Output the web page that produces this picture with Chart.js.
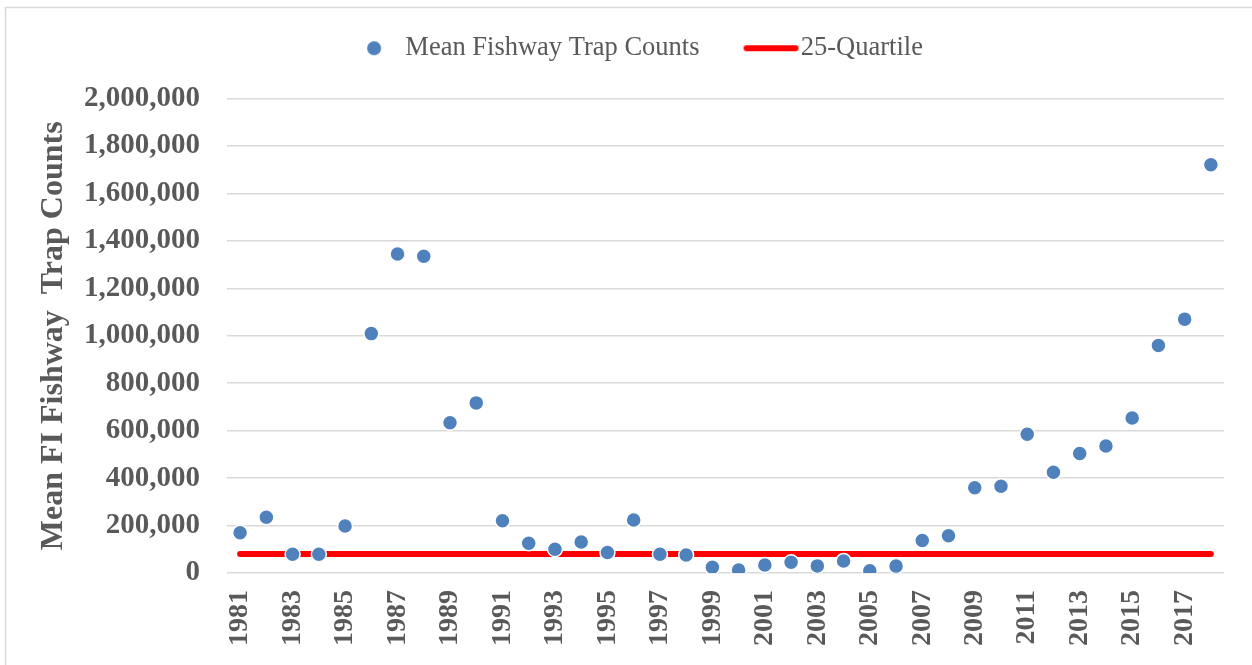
<!DOCTYPE html>
<html>
<head>
<meta charset="utf-8">
<title>Mean Fishway Trap Counts</title>
<script src="https://cdn.jsdelivr.net/npm/chart.js@4"></script>
<style>
  html, body { margin: 0; padding: 0; background: #ffffff; }
  #wrap { width: 1252px; height: 665px; position: relative; }
</style>
</head>
<body>
<div id="wrap"><canvas id="chart" width="1252" height="665"></canvas></div>
<script>
// Survey years
const years = [
  '1981','1982','1983','1984','1985','1986','1987','1988','1989','1990',
  '1991','1992','1993','1994','1995','1996','1997','1998','1999','2000',
  '2001','2002','2003','2004','2005','2006','2007','2008','2009','2010',
  '2011','2012','2013','2014','2015','2016','2017','2018'
];

// Mean fishway trap counts per year
const meanTrapCounts = [
  170000, 235000, 79000, 79000, 198000, 1009000, 1345000, 1335000, 633000, 717000,
  220000, 125000, 100000, 131000, 86000, 223000, 79000, 76000, 24000, 13000,
  34000, 45000, 30000, 51000, 9000, 29000, 137000, 157000, 359000, 366000,
  585000, 425000, 504000, 535000, 653000, 959000, 1070000, 1721000
];

// 25th percentile reference level
const quartile25 = 80000;

// Value axis ticks
const yTickValues = [0, 200000, 400000, 600000, 800000, 1000000, 1200000, 1400000, 1600000, 1800000, 2000000];

const seriesNames = ['Mean Fishway Trap Counts', '25-Quartile'];
const axisTitle = 'Mean FI Fishway  Trap Counts';

const pointBlue = '#4f81bd';
const lineRed = '#ff0000';
const textGrey = '#595959';
const gridGrey = '#d9d9d9';
const serif = "'Liberation Serif', 'Times New Roman', Times, serif";

// Legend swatches
function circleSwatch() {
  const c = document.createElement('canvas');
  c.width = 40; c.height = 18;
  const g = c.getContext('2d');
  g.fillStyle = pointBlue;
  g.beginPath();
  g.arc(30, 9, 7, 0, Math.PI * 2);
  g.fill();
  return c;
}
function lineSwatch() {
  const c = document.createElement('canvas');
  c.width = 80; c.height = 10;
  const g = c.getContext('2d');
  g.strokeStyle = lineRed;
  g.lineWidth = 6;
  g.lineCap = 'round';
  g.beginPath();
  g.moveTo(27, 5);
  g.lineTo(76, 5);
  g.stroke();
  return c;
}
const swatches = [circleSwatch(), lineSwatch()];

// Frame and white background
const framePlugin = {
  id: 'frame',
  beforeDraw(chart) {
    const ctx = chart.ctx;
    ctx.save();
    ctx.fillStyle = '#ffffff';
    ctx.fillRect(0, 0, chart.width, chart.height);
    ctx.strokeStyle = gridGrey;
    ctx.lineWidth = 1.5;
    ctx.strokeRect(5.5, 7.5, chart.width + 20, chart.height + 20);
    ctx.restore();
  }
};

// Empty layout box that keeps some room between the legend and the plot
const legendGapPlugin = {
  id: 'legendGap',
  beforeInit(chart) {
    const box = {
      position: 'top', weight: 500, fullSize: true, options: {},
      left: 0, top: 0, right: 0, bottom: 0, width: 0, height: 0,
      update(maxWidth) { this.width = maxWidth; this.height = 27; },
      isHorizontal() { return true; },
      draw() {}
    };
    Chart.layouts.addBox(chart, box);
  }
};

new Chart(document.getElementById('chart'), {
  type: 'line',
  data: {
    labels: years,
    datasets: [
      {
        label: seriesNames[0],
        data: meanTrapCounts,
        showLine: false,
        pointRadius: 7.5,
        pointHoverRadius: 7.5,
        pointBackgroundColor: pointBlue,
        pointBorderColor: '#ffffff',
        pointBorderWidth: 1.5,
        backgroundColor: pointBlue,
        borderColor: pointBlue,
        order: 0
      },
      {
        label: seriesNames[1],
        data: [{ x: years[0], y: quartile25 }, { x: years[years.length - 1], y: quartile25 }],
        borderColor: lineRed,
        backgroundColor: lineRed,
        borderWidth: 6,
        borderCapStyle: 'round',
        pointRadius: 0,
        pointHoverRadius: 0,
        fill: false,
        order: 1
      }
    ]
  },
  options: {
    responsive: false,
    animation: false,
    devicePixelRatio: 1,
    layout: { padding: { left: 35, right: 28, top: 3, bottom: 0 } },
    plugins: {
      tooltip: { enabled: false },
      legend: {
        display: true,
        position: 'top',
        align: 'center',
        labels: {
          usePointStyle: true,
          pointStyleWidth: 56,
          padding: 32,
          color: textGrey,
          font: { family: serif, size: 26.5 },
          generateLabels(chart) {
            return chart.data.datasets.map((ds, i) => ({
              text: ds.label,
              pointStyle: swatches[i],
              fillStyle: ds.borderColor,
              strokeStyle: ds.borderColor,
              lineWidth: 0,
              fontColor: textGrey,
              hidden: false,
              datasetIndex: i
            }));
          }
        }
      }
    },
    scales: {
      x: {
        type: 'category',
        offset: true,
        grid: { display: false, drawTicks: false },
        border: { display: false },
        ticks: {
          autoSkip: false,
          minRotation: 90,
          maxRotation: 90,
          padding: 17,
          color: textGrey,
          font: { family: serif, size: 28, weight: 'bold' },
          callback(value, index) {
            return index % 2 === 0 ? this.getLabelForValue(value) : '';
          }
        },
        afterFit(scale) {
          scale.height = 92;
          scale.paddingLeft = 0;
          scale.paddingRight = 0;
        }
      },
      y: {
        min: yTickValues[0],
        max: yTickValues[yTickValues.length - 1],
        grid: { color: gridGrey, lineWidth: 1.5, drawTicks: false },
        border: { display: false },
        afterBuildTicks(scale) { scale.ticks = yTickValues.map(v => ({ value: v })); },
        ticks: {
          autoSkip: false,
          padding: 27,
          color: textGrey,
          font: { family: serif, size: 29, weight: 'bold' },
          callback(value) { return Number(value).toLocaleString('en-US'); }
        },
        title: {
          display: true,
          text: axisTitle,
          color: textGrey,
          padding: { top: 0, bottom: 0 },
          font: { family: serif, size: 32, weight: 'bold' }
        },
        afterFit(scale) { scale.width = 192; }
      }
    }
  },
  plugins: [framePlugin, legendGapPlugin]
});
</script>
</body>
</html>
